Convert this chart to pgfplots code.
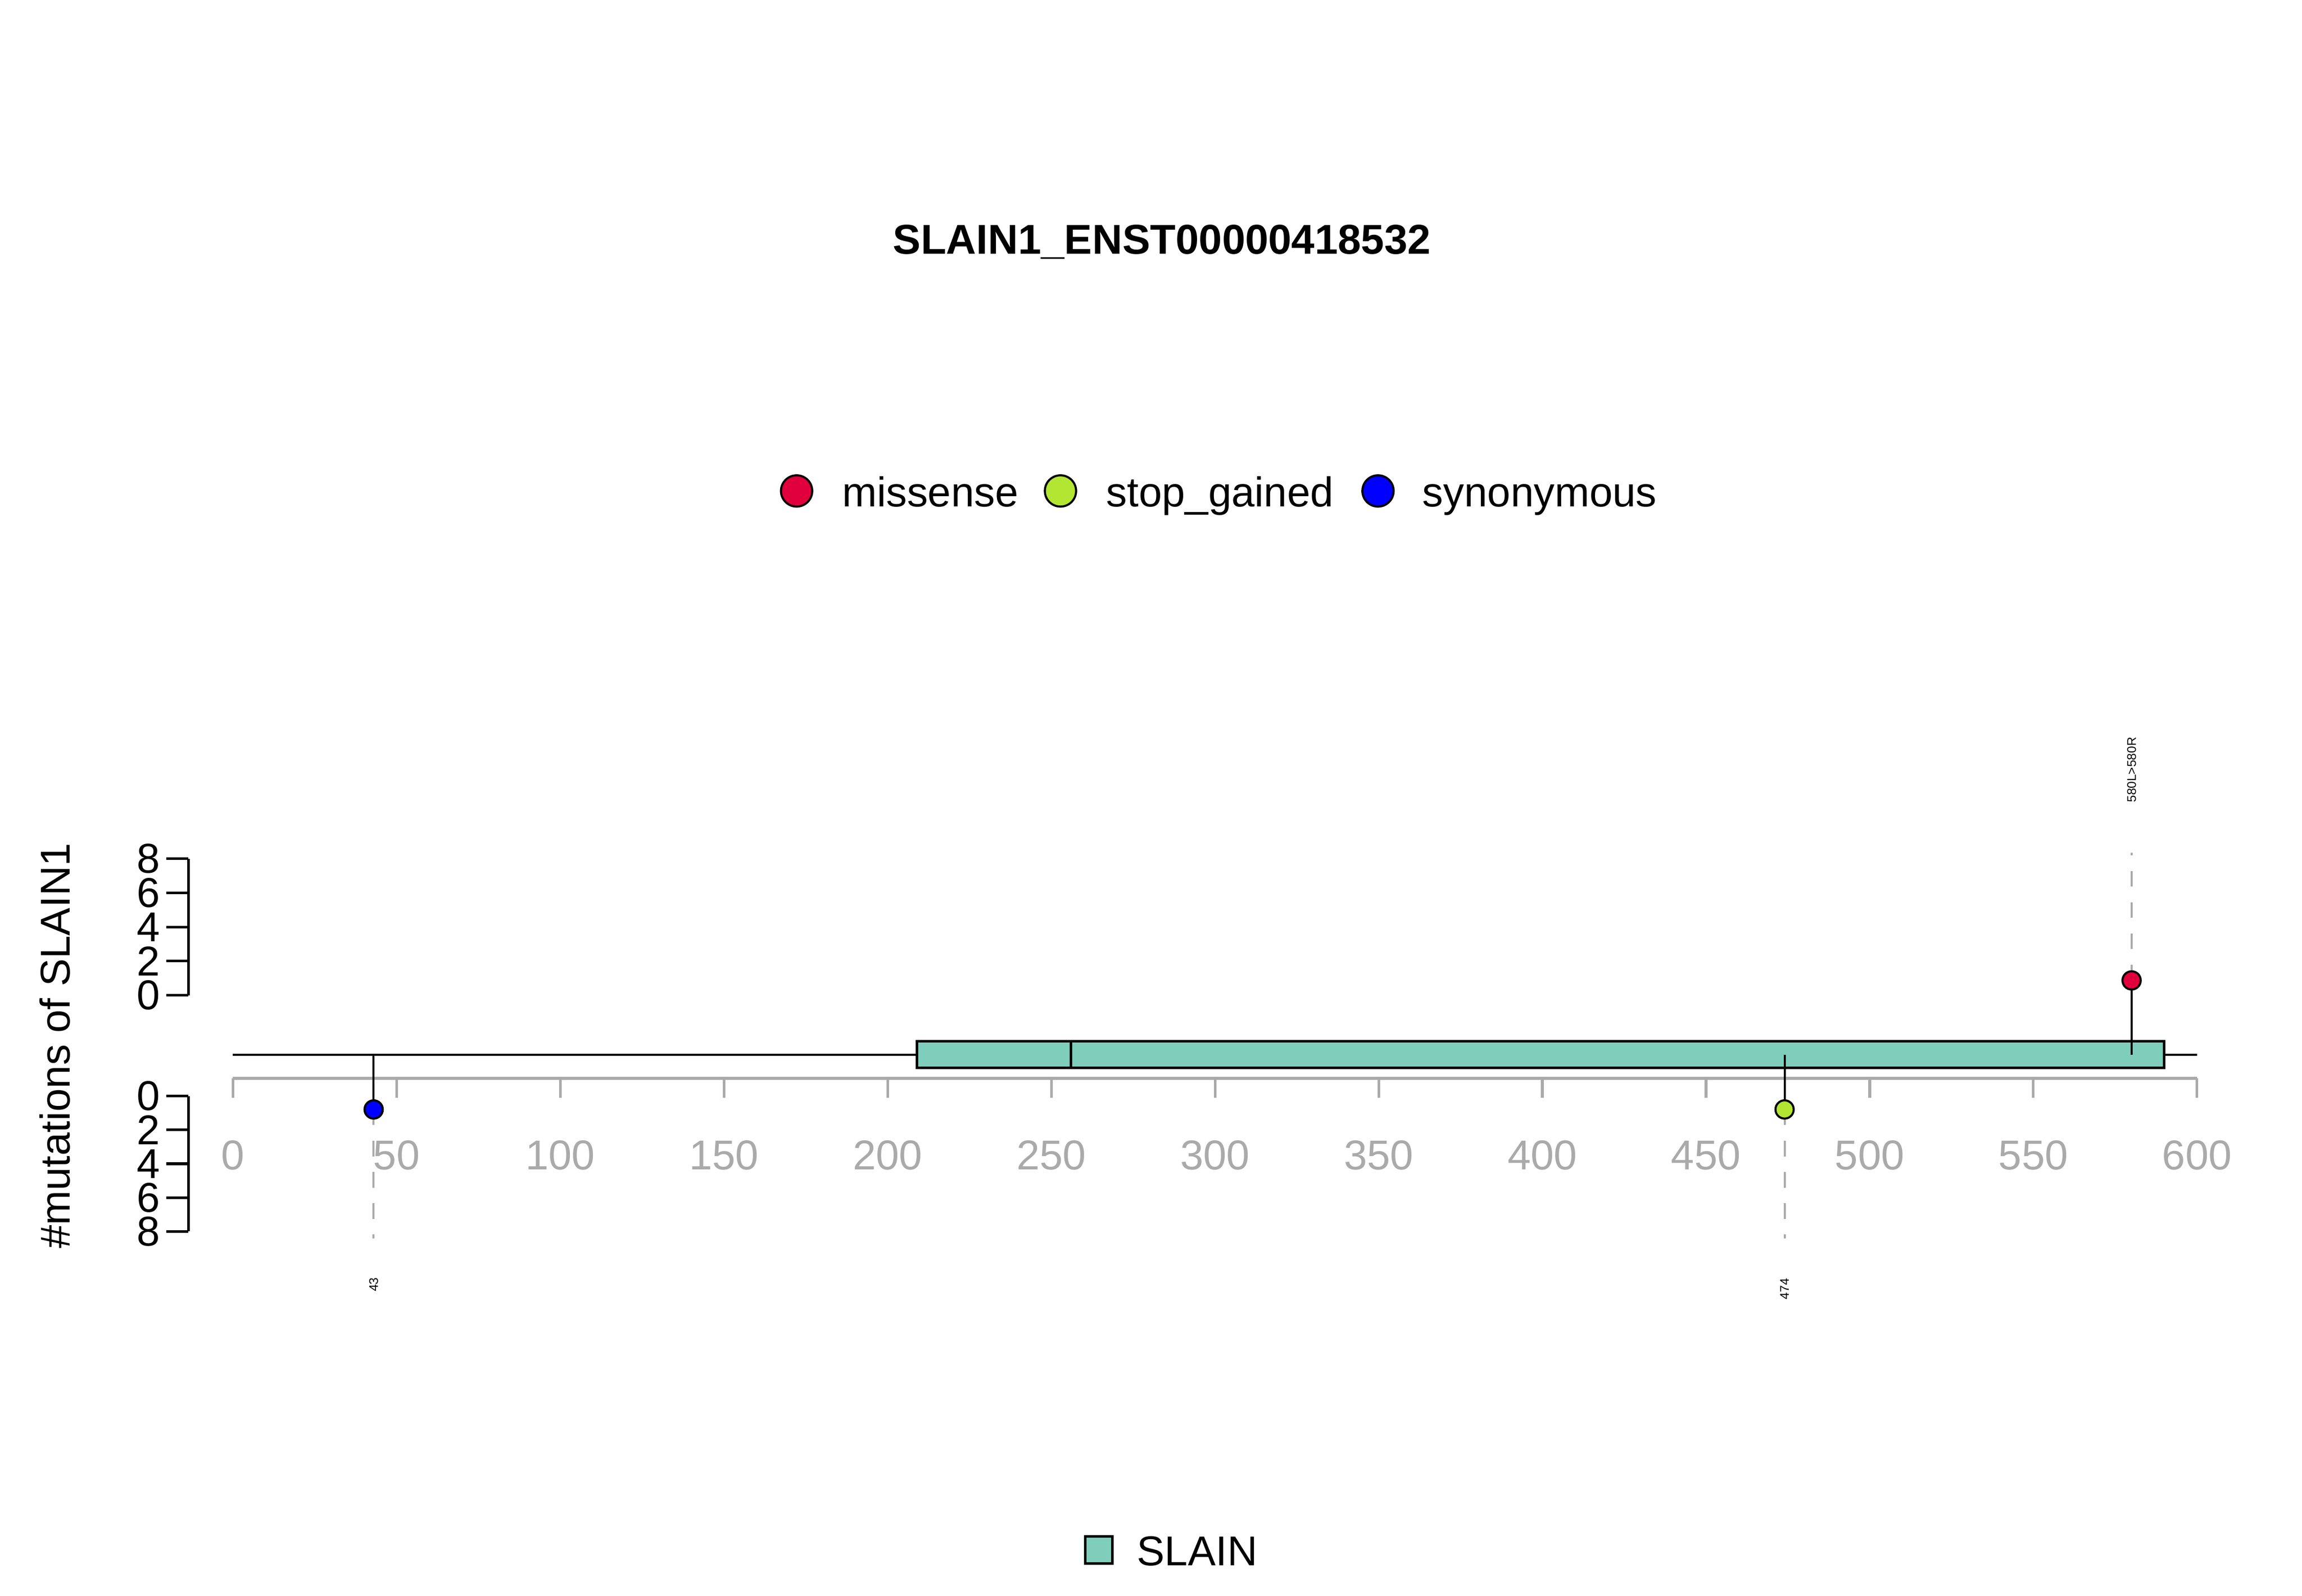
\documentclass[border=0pt]{standalone}
\usepackage{pgfplots}
\pgfplotsset{compat=1.18}
\usepackage{fontspec}
\setmainfont{Liberation Sans}
\definecolor{dom}{RGB}{127,205,187}
\definecolor{mis}{RGB}{224,0,60}
\definecolor{stp}{RGB}{178,230,50}
\definecolor{syn}{RGB}{0,0,255}
\definecolor{tk}{RGB}{170,170,170}
\tikzset{lt/.style={anchor=west, text height=1.6ex, text depth=0.45ex, font=\fontsize{8}{10}\selectfont}}
\begin{document}
\begin{tikzpicture}
\begin{axis}[scale only axis, width=15.52cm, height=10.69cm, hide axis,
  xmin=-71.14, xmax=632.06, ymin=-1069, ymax=0, clip=false]
\path (axis cs:-71.14,0) rectangle (axis cs:632.06,-1069);
% title and legend
\node[font=\bfseries\fontsize{8}{10}\selectfont] at (axis cs:283.8,-163) {SLAIN1\_ENST00000418532};
\addplot[only marks, mark=*, mark size=3pt, draw=black, fill=mis] coordinates {(172.2,-331)};
\addplot[only marks, mark=*, mark size=3pt, draw=black, fill=stp] coordinates {(252.8,-331)};
\addplot[only marks, mark=*, mark size=3pt, draw=black, fill=syn] coordinates {(349.8,-331)};
\node[lt] at (axis cs:180.5,-331) {missense};
\node[lt] at (axis cs:261.2,-331) {stop\_gained};
\node[lt] at (axis cs:357.8,-331) {synonymous};
% backbone & domain
\addplot[black, line width=0.4pt] coordinates {(0,-711) (600,-711)};
\addplot[draw=black, fill=dom, line width=0.5pt] coordinates {(209,-702) (590,-702) (590,-720) (209,-720)} -- cycle;
\addplot[black, line width=0.4pt] coordinates {(256,-702) (256,-720)};
% x axis
\addplot[tk, line width=0.5pt] coordinates {(0,-727) (600,-727)};
\pgfplotsinvokeforeach{0,50,...,600}{
  \addplot[tk, line width=0.5pt] coordinates {(#1,-727) (#1,-740)};
  \node[text=tk, font=\fontsize{8}{10}\selectfont] at (axis cs:#1,-779) {#1};
}
% y axes
\addplot[black, line width=0.5pt] coordinates {(-13.6,-579) (-13.6,-671)};
\addplot[black, line width=0.5pt] coordinates {(-13.6,-739) (-13.6,-830)};
\pgfplotsinvokeforeach{0,2,4,6,8}{
  \addplot[black, line width=0.5pt] coordinates {(-13.6,-671+11.5*#1) (-20.4,-671+11.5*#1)};
  \node[anchor=east, inner sep=0pt, font=\fontsize{8}{8}\selectfont] at (axis cs:-22,-671+11.5*#1) {#1};
  \addplot[black, line width=0.5pt] coordinates {(-13.6,-739-11.4*#1) (-20.4,-739-11.4*#1)};
  \node[anchor=east, inner sep=0pt, font=\fontsize{8}{8}\selectfont] at (axis cs:-22,-739-11.4*#1) {#1};
}
\node[rotate=90, font=\fontsize{8}{10}\selectfont] at (axis cs:-54.4,-705) {\#mutations of SLAIN1};
% lollipops
\addplot[black, line width=0.4pt] coordinates {(43,-711) (43,-748)};
\addplot[black, line width=0.4pt] coordinates {(474,-711) (474,-748)};
\addplot[black, line width=0.4pt] coordinates {(580,-711) (580,-661)};
\addplot[tk, dashed, line width=0.4pt] coordinates {(43,-748) (43,-835)};
\addplot[tk, dashed, line width=0.4pt] coordinates {(474,-748) (474,-835)};
\addplot[tk, dashed, line width=0.4pt] coordinates {(580,-661) (580,-575)};
\addplot[only marks, mark=*, mark size=1.75pt, draw=black, fill=syn] coordinates {(43,-748)};
\addplot[only marks, mark=*, mark size=1.75pt, draw=black, fill=stp] coordinates {(474,-748)};
\addplot[only marks, mark=*, mark size=1.75pt, draw=black, fill=mis] coordinates {(580,-661)};
\node[rotate=90, font=\fontsize{2.4}{3}\selectfont] at (axis cs:43,-866) {43};
\node[rotate=90, font=\fontsize{2.4}{3}\selectfont] at (axis cs:474,-869) {474};
\node[rotate=90, font=\fontsize{2.4}{3}\selectfont] at (axis cs:580,-519) {580L>580R};
% domain legend
\draw[black, fill=dom, line width=0.5pt] (axis cs:260.4,-1036) rectangle (axis cs:268.6,-1054);
\node[lt] at (axis cs:270.5,-1045) {SLAIN};
\end{axis}
\end{tikzpicture}
\end{document}
